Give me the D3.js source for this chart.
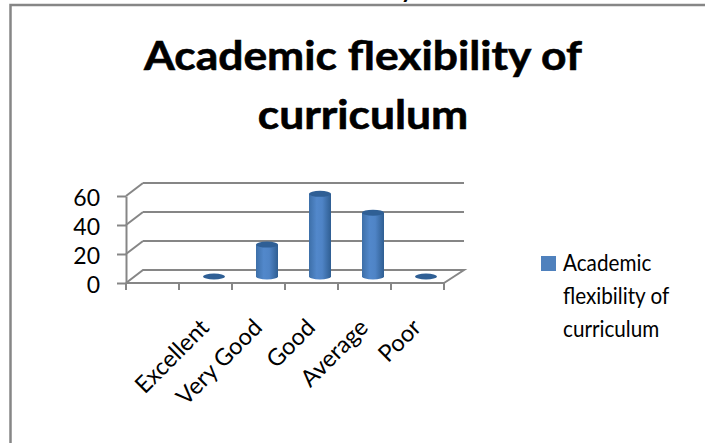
<!DOCTYPE html>
<html>
<head>
<meta charset="utf-8">
<script src="https://cdnjs.cloudflare.com/ajax/libs/d3/7.8.5/d3.min.js"></script>
<style>
  html, body { margin: 0; padding: 0; background: #fff; }
  svg { display: block; }
  text { font-family: Lato, "Open Sans", sans-serif; fill: #000; }
</style>
</head>
<body>
<svg id="chart"></svg>
<script>
const categories = ["Excellent", "Very Good", "Good", "Average", "Poor"];
const values = [0, 22, 57, 44, 0];
const yTicks = [0, 20, 40, 60];
const titleLines = ["Academic flexibility of", "curriculum"];
const legendLines = ["Academic", "flexibility of", "curriculum"];

const width = 705, height = 443;
const svg = d3.select("#chart")
  .attr("width", width)
  .attr("height", height)
  .attr("viewBox", [0, 0, width, height]);

// gradient for the cylinder bodies
const grad = svg.append("defs").append("linearGradient")
  .attr("id", "body");
grad.selectAll("stop")
  .data([[0, "#3d6fa8"], [0.35, "#5288cb"], [0.6, "#4f84c6"], [1, "#2f5e92"]])
  .join("stop")
  .attr("offset", d => d[0])
  .attr("stop-color", d => d[1]);

// chart frame, cut off by the page on the right and bottom
svg.append("path")
  .attr("d", "M10.5,443V5H705")
  .attr("fill", "none")
  .attr("stroke", "#868686")
  .attr("stroke-width", 2.5);

// tail of the line of text above the chart
svg.append("text")
  .attr("x", 407).attr("y", -2)
  .attr("text-anchor", "middle")
  .style("font-size", "24px")
  .style("font-weight", 700)
  .text("y");

// title, stretched a little to get the wide look of the original
svg.append("g").selectAll("text")
  .data(titleLines)
  .join("text")
  .attr("transform", (d, i) => `translate(363,${70 + i * 59}) scale(1.11,1)`)
  .attr("text-anchor", "middle")
  .attr("stroke", "#000")
  .attr("stroke-width", 0.6)
  .style("font-size", "40px")
  .style("font-weight", 700)
  .text(d => d);

// scales, front plane of the 3d box. the first band is empty in the original
const x = d3.scaleBand().domain(["", ...categories]).range([126, 444]);
const y = d3.scaleLinear().domain([0, 60]).range([283, 196]);
const depthX = 17, depthY = -13;
const grey = "#868686";
const lineW = 2;

// floor
const floor = d3.path();
floor.moveTo(x.range()[0], y(0));
floor.lineTo(x.range()[0] + depthX, y(0) + depthY);
floor.lineTo(x.range()[1] + depthX + 3, y(0) + depthY);
floor.lineTo(x.range()[1], y(0));
svg.append("path")
  .attr("d", floor.toString())
  .attr("fill", "none")
  .attr("stroke", grey)
  .attr("stroke-width", lineW);

// back wall grid lines and their diagonal on the side wall
const grid = svg.append("g")
  .attr("stroke", grey)
  .attr("stroke-width", lineW)
  .attr("fill", "none");
grid.selectAll("line")
  .data(yTicks.slice(1))
  .join("line")
  .attr("x1", x.range()[0] + depthX)
  .attr("x2", x.range()[1] + depthX + 3)
  .attr("y1", d => y(d) + depthY)
  .attr("y2", d => y(d) + depthY);
grid.selectAll("path")
  .data(yTicks.slice(1))
  .join("path")
  .attr("d", d => `M${x.range()[0]},${y(d)}L${x.range()[0] + depthX},${y(d) + depthY}`);

// axes
const yAxis = svg.append("g")
  .attr("transform", `translate(${x.range()[0]},0)`)
  .call(d3.axisLeft(y).tickValues(yTicks).tickSize(9).tickPadding(17).tickSizeOuter(0));
yAxis.select(".domain").attr("stroke", grey).attr("stroke-width", lineW);
yAxis.selectAll("line").attr("stroke", grey).attr("stroke-width", lineW);
yAxis.selectAll("text")
  .attr("dy", "0.4em")
  .style("font-family", "Lato, sans-serif")
  .style("font-size", "23px");

const xEdges = x.domain().map(c => x(c)).concat(x.range()[1]);
svg.append("line")
  .attr("x1", x.range()[0]).attr("x2", x.range()[1])
  .attr("y1", y(0)).attr("y2", y(0))
  .attr("stroke", grey).attr("stroke-width", lineW);
svg.append("g").selectAll("line")
  .data(xEdges)
  .join("line")
  .attr("x1", d => d).attr("x2", d => d)
  .attr("y1", y(0)).attr("y2", y(0) + 7)
  .attr("stroke", grey).attr("stroke-width", lineW);

// category labels, rotated
svg.append("g").selectAll("text")
  .data(categories)
  .join("text")
  .attr("transform", d => `translate(${x(d) - x.bandwidth() / 2 + 58},329) rotate(-45)`)
  .attr("text-anchor", "end")
  .style("font-size", "23.5px")
  .text(d => d);

// cylinders
const rx = 11, ry = 3;
const baseY = y(0) + depthY / 2;
const heightOf = v => y(0) - y(v);
const bars = svg.append("g").selectAll("g")
  .data(categories.map((c, i) => ({ c, v: values[i] })))
  .join("g")
  .attr("transform", d => `translate(${x(d.c) + x.bandwidth() / 2 + depthX / 2},${baseY})`);

bars.filter(d => d.v > 0).append("path")
  .attr("d", d => `M${-rx},${-heightOf(d.v)}V0A${rx},${ry} 0 0 0 ${rx},0V${-heightOf(d.v)}Z`)
  .attr("fill", "url(#body)");
bars.append("ellipse")
  .attr("cy", d => -heightOf(d.v))
  .attr("rx", rx)
  .attr("ry", ry)
  .attr("fill", "#2f5f95");

// legend
svg.append("rect")
  .attr("x", 541).attr("y", 256)
  .attr("width", 15).attr("height", 15)
  .attr("fill", "#4f81bd");
svg.append("g").selectAll("text")
  .data(legendLines)
  .join("text")
  .attr("transform", (d, i) => `translate(563,${271 + i * 33}) scale(0.92,1)`)
  .style("font-size", "22.5px")
  .text(d => d);
</script>
</body>
</html>
